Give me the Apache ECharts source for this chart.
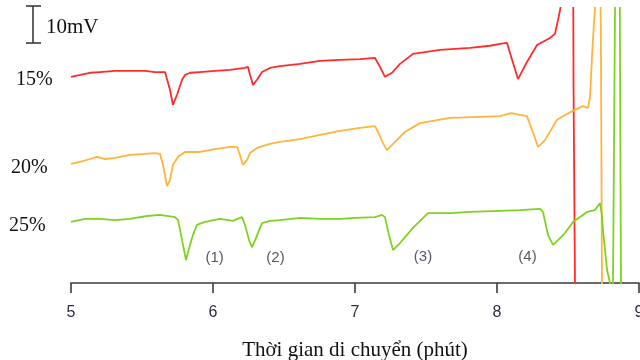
<!DOCTYPE html>
<html>
<head>
<meta charset="utf-8">
<script src="https://cdn.jsdelivr.net/npm/echarts@6/dist/echarts.min.js"></script>
<style>
html,body{margin:0;padding:0;background:#fff;overflow:hidden;}
#chart{width:640px;height:360px;}
</style>
</head>
<body>
<div id="chart"></div>
<script>
// Migration time (min) and signal (mV, stacked offsets as displayed)
const xTicks = [5, 6, 7, 8, 9];
const seriesNames = ['15%', '20%', '25%'];

const t15 = [5.000,5.063,5.134,5.204,5.310,5.415,5.521,5.592,5.662,5.697,5.718,5.746,5.782,5.803,5.838,5.908,6.014,6.120,6.225,6.246,6.261,6.282,6.310,6.345,6.401,6.472,6.613,6.754,6.894,7.035,7.141,7.176,7.211,7.261,7.317,7.408,7.599,7.810,7.951,8.021,8.070,8.106,8.148,8.211,8.282,8.373,8.408,8.430,8.451,8.465,8.535,8.539,8.549,8.552];
const v15 = [55.7,56.2,56.8,57.0,57.3,57.3,57.3,57.0,57.0,52.2,48.1,50.8,54.9,56.2,56.8,57.0,57.3,57.6,58.1,58.4,56.2,53.5,54.9,57.0,58.1,58.6,59.2,60.0,60.3,60.5,60.8,58.4,55.7,56.8,59.2,61.9,63.0,63.5,64.1,64.6,64.9,60.3,55.1,59.7,64.3,66.2,67.3,71.1,75.1,100,100,53.5,0,-20];

const t20 = [5.000,5.063,5.134,5.183,5.239,5.310,5.415,5.521,5.592,5.627,5.648,5.676,5.697,5.718,5.754,5.803,5.908,6.014,6.120,6.169,6.190,6.211,6.239,6.261,6.310,6.401,6.472,6.613,6.754,6.894,7.035,7.141,7.162,7.197,7.225,7.282,7.352,7.458,7.669,7.880,8.021,8.099,8.162,8.211,8.246,8.289,8.338,8.423,8.479,8.535,8.606,8.641,8.655,8.669,8.683,8.690,8.697,8.725,8.732,8.739,8.743];
const v20 = [32.2,32.7,33.5,34.1,33.5,33.8,34.6,34.9,35.1,34.9,31.9,26.2,27.8,31.9,34.1,35.4,35.4,36.2,36.8,36.8,34.6,31.9,33.2,35.1,36.5,37.6,38.1,38.9,40.0,41.1,41.9,42.4,40.8,37.8,35.9,38.1,40.8,43.2,44.6,44.9,45.1,45.9,45.4,45.1,41.4,36.8,38.6,44.1,45.4,46.5,47.8,47.3,50.3,61.1,70.3,73.8,100,100,63.0,0,-20];

const t25 = [5.000,5.099,5.204,5.310,5.415,5.535,5.627,5.732,5.754,5.782,5.810,5.838,5.859,5.887,5.944,6.049,6.141,6.204,6.225,6.254,6.275,6.303,6.345,6.401,6.472,6.613,6.754,6.894,7.000,7.141,7.190,7.211,7.239,7.268,7.317,7.408,7.514,7.669,7.810,8.021,8.162,8.303,8.324,8.359,8.394,8.430,8.479,8.535,8.634,8.690,8.725,8.739,8.746,8.761,8.775,8.796,8.803,8.813,8.817,8.831,8.833,8.863,8.866,8.873,8.875];
const v25 = [16.5,17.3,17.3,17.0,17.3,18.1,18.4,17.8,17.0,11.6,6.2,10.3,13.0,15.7,16.5,17.3,16.8,17.8,15.7,11.6,9.7,12.2,16.2,16.8,17.0,17.6,17.3,17.3,17.6,17.8,18.4,17.8,13.0,8.9,10.8,14.9,18.9,18.9,19.2,19.5,19.7,20.0,19.2,13.0,10.3,11.6,13.5,16.5,19.2,19.7,21.6,18.4,14.3,8.9,3.5,0,-20,-20,0,73.8,100,100,62.2,0,-20];

// Peak annotations
const peakLabels = ['(1)', '(2)', '(3)', '(4)'];
const peakT = [6.011, 6.440, 7.479, 8.215];
const peakV = [6.8, 6.8, 7.0, 7.0];

const colors = ['#ff2b2b', '#ffb43a', '#7ed321'];

function zip(a, b) { return a.map((x, i) => [x, b[i]]); }

const chart = echarts.init(document.getElementById('chart'), null, {renderer: 'canvas'});

const lineSeries = [[t15, v15], [t20, v20], [t25, v25]].map((p, i) => ({
  name: seriesNames[i],
  type: 'line',
  data: zip(p[0], p[1]),
  showSymbol: false,
  symbol: 'none',
  clip: true,
  lineStyle: {color: colors[i], width: 1.8},
  itemStyle: {color: colors[i]},
  z: 3
}));

chart.setOption({
  animation: false,
  backgroundColor: '#ffffff',
  grid: {left: 71, right: 1, top: 8, bottom: 77, containLabel: false, outerBoundsMode: 'none'},
  xAxis: {
    type: 'value',
    min: xTicks[0],
    max: xTicks[xTicks.length - 1],
    interval: 1,
    name: 'Thời gian di chuyển (phút)',
    nameLocation: 'middle',
    nameGap: 57,
    nameTextStyle: {fontFamily: 'Liberation Serif', fontSize: 21, color: '#111'},
    axisLine: {lineStyle: {color: '#3a3a3a', width: 1.6}},
    axisTick: {show: true, length: 10, inside: false, lineStyle: {color: '#3a3a3a', width: 1.6}},
    axisLabel: {fontFamily: 'Liberation Sans', fontSize: 16, color: '#2b2f40', margin: 22},
    splitLine: {show: false}
  },
  yAxis: {
    type: 'value',
    min: 0,
    max: 74.3,
    show: false
  },
  series: lineSeries.concat([{
    type: 'scatter',
    data: peakT.map((t, i) => ({value: [t, peakV[i]], name: peakLabels[i]})),
    symbolSize: 0,
    silent: true,
    label: {
      show: true,
      position: 'inside',
      formatter: p => p.name,
      fontFamily: 'Liberation Sans',
      fontSize: 15,
      color: '#2b2f40'
    },
    z: 4
  }]),
  graphic: [
    {type: 'line', shape: {x1: 33, y1: 6, x2: 33, y2: 43}, style: {stroke: '#3a3a3a', lineWidth: 1.6}},
    {type: 'line', shape: {x1: 26, y1: 6, x2: 41, y2: 6}, style: {stroke: '#3a3a3a', lineWidth: 1.6}},
    {type: 'line', shape: {x1: 26, y1: 43, x2: 41, y2: 43}, style: {stroke: '#3a3a3a', lineWidth: 1.6}},
    {type: 'text', left: 46, top: 17, style: {text: '10mV', font: '21px "Liberation Serif"', fill: '#111'}},
    {type: 'text', left: 16, top: 70, style: {text: seriesNames[0], font: '20px "Liberation Serif"', fill: '#111'}},
    {type: 'text', left: 11, top: 158, style: {text: seriesNames[1], font: '20px "Liberation Serif"', fill: '#111'}},
    {type: 'text', left: 9, top: 216, style: {text: seriesNames[2], font: '20px "Liberation Serif"', fill: '#111'}}
  ]
});
</script>
</body>
</html>
